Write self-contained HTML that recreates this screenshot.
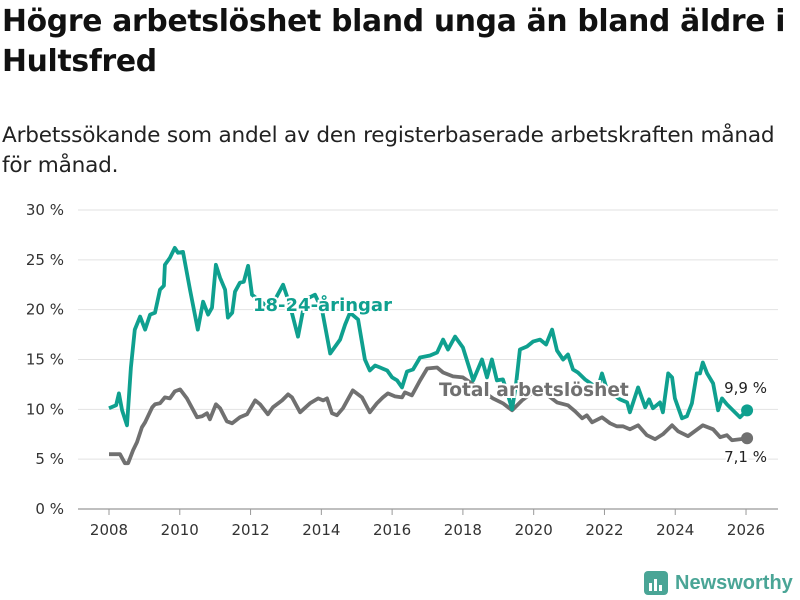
<!DOCTYPE html>
<html><head><meta charset="utf-8">
<style>
body{margin:0;width:800px;height:600px;background:#fff;font-family:"Liberation Sans","DejaVu Sans",sans-serif;overflow:hidden;position:relative}
h1{position:absolute;left:2px;top:2px;margin:0;font-size:29.8px;line-height:40px;font-weight:bold;color:#111;font-family:"DejaVu Sans","Liberation Sans",sans-serif;letter-spacing:-0.3px;white-space:nowrap}
.sub{position:absolute;left:2px;top:121px;margin:0;font-size:21.6px;line-height:30px;color:#222;font-family:"DejaVu Sans","Liberation Sans",sans-serif;white-space:nowrap;letter-spacing:-0.2px}
svg text{font-family:"DejaVu Sans","Liberation Sans",sans-serif}
</style></head><body>
<h1>Högre arbetslöshet bland unga än bland äldre i<br>Hultsfred</h1>
<p class="sub">Arbetssökande som andel av den registerbaserade arbetskraften månad<br>för månad.</p>
<svg id="chart" width="800" height="600" style="position:absolute;left:0;top:0"></svg>
<script>
const youthYears=[0,0.20,0.28,0.37,0.51,0.62,0.73,0.88,1.02,1.16,1.30,1.44,1.55,1.58,1.72,1.86,1.95,2.09,2.29,2.51,2.66,2.80,2.91,3.02,3.14,3.28,3.36,3.48,3.56,3.70,3.81,3.93,4.04,4.15,4.41,4.69,4.92,5.11,5.34,5.54,5.82,6.02,6.25,6.53,6.67,6.81,7.04,7.23,7.37,7.52,7.66,7.86,8.00,8.14,8.28,8.42,8.59,8.79,9.07,9.27,9.44,9.58,9.78,10.00,10.29,10.54,10.68,10.82,10.96,11.13,11.27,11.39,11.50,11.61,11.81,11.98,12.18,12.35,12.52,12.66,12.83,12.97,13.11,13.25,13.45,13.65,13.79,13.93,14.07,14.24,14.44,14.64,14.72,14.95,15.15,15.26,15.37,15.57,15.65,15.80,15.91,15.99,16.19,16.33,16.47,16.61,16.70,16.78,16.90,17.07,17.21,17.32,17.46,17.63,17.83,18.03];
const youthValues=[10.1,10.4,11.6,9.9,8.4,14.2,18.0,19.3,18.0,19.5,19.7,22.0,22.4,24.5,25.2,26.2,25.7,25.8,22.0,18.0,20.8,19.5,20.2,24.5,23.2,22.0,19.2,19.7,21.8,22.7,22.8,24.4,21.5,21.2,20.5,21.0,22.5,20.5,17.3,21.0,21.5,20.0,15.6,17.0,18.5,19.7,19.0,15.0,13.9,14.4,14.2,13.9,13.2,12.9,12.2,13.8,14.0,15.2,15.4,15.7,17.0,16.0,17.3,16.2,12.9,15.0,13.2,15.0,12.9,13.0,11.5,10.0,12.5,16.0,16.3,16.8,17.0,16.5,18.0,15.9,15.0,15.5,14.0,13.7,13.0,12.5,11.8,13.6,12.0,11.5,11.0,10.7,9.7,12.2,10.2,11.0,10.1,10.7,9.7,13.6,13.2,11.1,9.1,9.3,10.6,13.6,13.6,14.7,13.6,12.6,9.9,11.1,10.5,9.9,9.2,9.9];
const totalYears=[0,0.31,0.45,0.54,0.68,0.79,0.93,1.02,1.22,1.30,1.44,1.58,1.72,1.86,2.01,2.20,2.49,2.63,2.77,2.85,3.02,3.14,3.33,3.48,3.70,3.90,4.13,4.27,4.49,4.63,4.89,5.06,5.17,5.40,5.68,5.91,6.05,6.16,6.30,6.44,6.61,6.89,7.15,7.37,7.57,7.74,7.88,8.08,8.28,8.36,8.56,8.79,8.99,9.27,9.44,9.72,10.00,10.29,10.57,10.85,11.13,11.39,11.67,11.90,12.18,12.40,12.66,12.97,13.17,13.37,13.50,13.65,13.93,14.16,14.35,14.52,14.72,14.95,15.20,15.43,15.65,15.91,16.08,16.36,16.78,17.07,17.27,17.46,17.60,17.83,18.03];
const totalValues=[5.5,5.5,4.6,4.6,5.9,6.7,8.2,8.7,10.2,10.5,10.6,11.2,11.1,11.8,12.0,11.1,9.2,9.3,9.6,9.0,10.5,10.1,8.8,8.6,9.2,9.5,10.9,10.5,9.5,10.2,10.9,11.5,11.2,9.7,10.6,11.1,10.9,11.1,9.6,9.4,10.1,11.9,11.2,9.7,10.6,11.2,11.6,11.3,11.2,11.7,11.4,12.9,14.1,14.2,13.7,13.3,13.2,12.5,11.8,11.1,10.6,9.9,10.9,11.5,11.8,11.4,10.7,10.4,9.8,9.1,9.4,8.7,9.2,8.6,8.3,8.3,8.0,8.4,7.4,7.0,7.5,8.4,7.8,7.3,8.4,8.0,7.2,7.4,6.9,7.0,7.1];
const yTicks=[0,5,10,15,20,25,30];
const yTickLabels=["0 %","5 %","10 %","15 %","20 %","25 %","30 %"];
const xTicks=[2008,2010,2012,2014,2016,2018,2020,2022,2024,2026];

const NS="http://www.w3.org/2000/svg";
const svg=document.getElementById('chart');
const X=yr=>109+(yr-2008)*35.39;
const Y=v=>509-v*9.967;
function mk(t,a,p){const e=document.createElementNS(NS,t);for(const k in a)e.setAttribute(k,a[k]);(p||svg).appendChild(e);return e;}

yTicks.forEach((t,i)=>{
  const g=mk('line',{x1:78,x2:778,y1:Y(t),y2:Y(t),stroke:t===0?'#999':'#e2e2e2','stroke-width':t===0?1.3:1});
  
  
  const tx=mk('text',{x:64,y:Y(t)+5,'text-anchor':'end','font-size':15,fill:'#333'});
  tx.textContent=yTickLabels[i];
  
  
});
xTicks.forEach(t=>{
  const l=mk('line',{x1:X(t),x2:X(t),y1:509,y2:515,stroke:'#999'});
  
  
  const tx=mk('text',{x:X(t),y:535,'text-anchor':'middle','font-size':15,fill:'#333'});
  tx.textContent=t;
  
  
});
function line(yrs,vals,color,name){
  const d=yrs.map((o,i)=>(i?'L':'M')+X(2008+o).toFixed(1)+','+Y(vals[i]).toFixed(1)).join('');
  const p=mk('path',{d:d,fill:'none',stroke:color,'stroke-width':3.8,'stroke-linejoin':'round'});
  
  
  const n=yrs.length-1;
  const c=mk('circle',{cx:X(2008+yrs[n]),cy:Y(vals[n]),r:6,fill:color});
  
  
}
line(totalYears,totalValues,'#707070','total-line');
line(youthYears,youthValues,'#0fa08f','youth-line');
function lbl(x,y,txt,col,name,size,weight,anchor){
  const t=mk('text',{x:x,y:y,'font-size':size,'font-weight':weight,fill:col,stroke:'#fff','stroke-width':4,'paint-order':'stroke','text-anchor':anchor||'start'});
  t.textContent=txt;
  
  
}
lbl(253,311,'18-24-åringar','#0fa08f','youth-series-label',18,'bold');
lbl(439,396,'Total arbetslöshet','#707070','total-series-label',18.6,'bold');
const n1=youthValues.length-1,n2=totalValues.length-1;
lbl(767,393,String(youthValues[n1]).replace('.',',')+' %','#222','youth-end-value',15,'normal','end');
lbl(767,462,String(totalValues[n2]).replace('.',',')+' %','#222','total-end-value',15,'normal','end');
</script>
<div style="position:absolute;left:644px;top:570px;height:26px;display:flex;align-items:center">
  <svg width="24" height="24"><rect x="0" y="0" width="24" height="24" rx="4" fill="#4aa596"/><rect x="5" y="12" width="3" height="8" fill="#fff"/><rect x="10" y="8" width="3" height="12" fill="#fff"/><rect x="15" y="14" width="3" height="6" fill="#fff"/></svg>
  <span style="margin-left:7px;font-size:20px;font-weight:bold;color:#4aa596;font-family:'Liberation Sans',sans-serif">Newsworthy</span>
</div>
</body></html>
